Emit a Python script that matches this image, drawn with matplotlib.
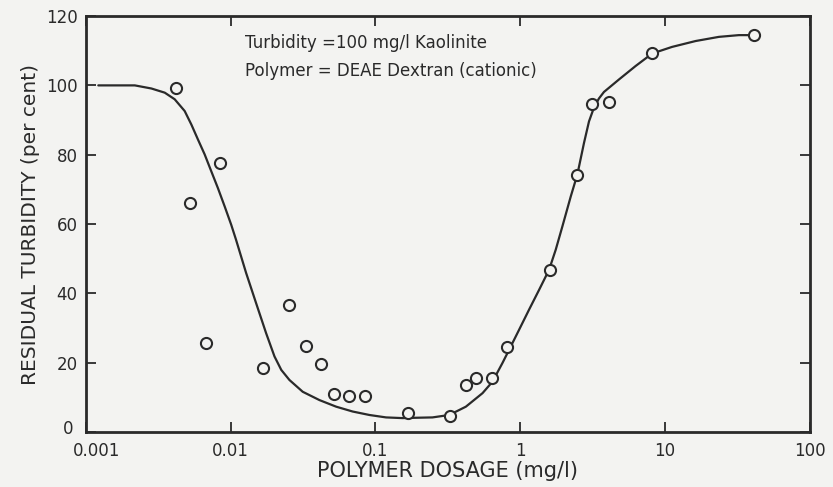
import matplotlib
matplotlib.use("Agg")
import matplotlib.pyplot as plt
import matplotlib.transforms as mtransforms
from matplotlib.ticker import FixedLocator, NullLocator

# Data
dose_pts = [0.00422, 0.00522, 0.0068, 0.0084, 0.0167, 0.0255, 0.0333, 0.0422,
            0.0521, 0.0662, 0.0853, 0.167, 0.329, 0.422, 0.495, 0.644, 0.817,
            1.60, 2.48, 3.15, 4.11, 8.10, 41.1]
turb_pts = [99.3, 66.1, 25.8, 77.7, 18.6, 36.7, 24.9, 19.6,
            11.0, 10.5, 10.5, 5.4, 4.7, 13.6, 15.5, 15.5, 24.5,
            46.8, 74.0, 94.5, 95.2, 109.4, 114.5]

curve_x = [0.00122, 0.00218, 0.00284, 0.00351, 0.00411, 0.00482, 0.00536,
           0.00595, 0.00662, 0.00736, 0.00817, 0.00910, 0.0101, 0.0109,
           0.0128, 0.0150, 0.0176, 0.0201, 0.0224, 0.0255, 0.0315, 0.0411,
           0.0536, 0.0697, 0.0910, 0.1185, 0.154, 0.191, 0.248, 0.324,
           0.422, 0.550, 0.644, 0.755, 0.839, 0.984, 1.153, 1.352, 1.585,
           1.762, 1.958, 2.239, 2.485, 2.762, 2.990, 3.236, 3.50, 3.793, 4.815,
           6.28, 8.17, 11.2, 16.3, 23.6, 32.4, 40.0]
curve_y = [100, 100, 99.1, 97.9, 96.0, 92.6, 88.7,
           84.4, 80.1, 75.2, 70.4, 65.1, 59.8, 55.5,
           45.9, 37.2, 28.5, 21.8, 17.9, 15.0, 11.6, 9.2,
           7.3, 5.9, 4.9, 4.2, 4.0, 4.1, 4.2, 4.9,
           7.3, 11.2, 14.5, 19.9, 23.7, 29.5, 35.3, 41.0, 46.8,
           52.6, 59.3, 68.0, 74.3, 83.4, 89.6, 93.6, 96.2, 98.1, 101.7,
           105.6, 109.2, 111.1, 112.8, 114.0, 114.5, 114.5]

xticks = [0.001, 0.01, 0.1, 1, 10, 100]
xticklabels = ["0.001", "0.01", "0.1", "1", "10", "100"]
yticks = [0, 20, 40, 60, 80, 100, 120]

ink = "#2a2a2a"
bg = "#f3f3f1"

fig = plt.figure(figsize=(8.33, 4.87), dpi=100, facecolor=bg)
ax = fig.add_axes([0.103, 0.113, 0.869, 0.854], facecolor=bg)

ax.set_xscale("log")
ax.set_xlim(0.001, 100)
ax.set_ylim(0, 120)

ax.plot(curve_x, curve_y, color=ink, lw=1.6, zorder=2,
        solid_joinstyle="round", solid_capstyle="round")
ax.plot(dose_pts, turb_pts, linestyle="none", marker="o", ms=8,
        mfc=bg, mec=ink, mew=1.5, zorder=3)

ax.xaxis.set_major_locator(FixedLocator(xticks))
ax.xaxis.set_minor_locator(NullLocator())
ax.set_xticklabels(xticklabels)
ax.set_yticks(yticks)

for s in ax.spines.values():
    s.set_linewidth(2.0)
    s.set_color(ink)

ax.tick_params(axis="both", which="major", direction="in", length=7, width=1.3,
               colors=ink, labelsize=12, top=True, right=True)
ax.tick_params(axis="y", pad=6)
ax.tick_params(axis="x", pad=7)

# nudge first x tick label right and first y tick label up (as in the reference)
first = ax.get_xticklabels()[0]
first.set_transform(first.get_transform() +
                    mtransforms.ScaledTranslation(11 / 100, 0, fig.dpi_scale_trans))
zero = ax.get_yticklabels()[0]
zero.set_transform(zero.get_transform() +
                   mtransforms.ScaledTranslation(-4 / 100, 5 / 100, fig.dpi_scale_trans))

ax.set_xlabel("POLYMER DOSAGE (mg/l)", fontsize=15, color=ink, labelpad=1)
ax.set_ylabel("RESIDUAL TURBIDITY (per cent)", fontsize=14.5, color=ink, labelpad=4)

ax.text(0.22, 0.935, "Turbidity =100 mg/l Kaolinite", transform=ax.transAxes,
        fontsize=12, color=ink, va="center")
ax.text(0.22, 0.868, "Polymer = DEAE Dextran (cationic)", transform=ax.transAxes,
        fontsize=12, color=ink, va="center")

fig.savefig("out.png", dpi=100, facecolor=bg)
